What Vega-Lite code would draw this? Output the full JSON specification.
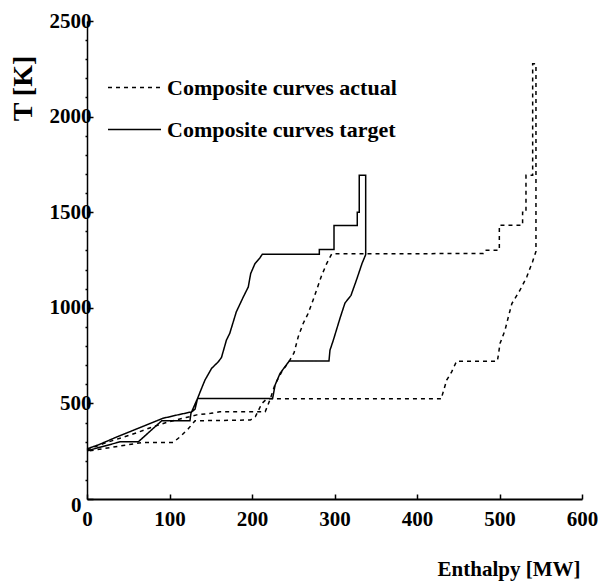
{
  "$schema": "https://vega.github.io/schema/vega-lite/v6.json",
  "width": 495,
  "height": 478,
  "autosize": "none",
  "padding": {"left": 87, "top": 21, "right": 16, "bottom": 83},
  "background": "white",
  "config": {"view": {"stroke": null}, "font": "Liberation Serif"},
  "data": {"values": [
    {"curve": "Composite curves target", "i": 1, "H": 0, "T": 262},
    {"curve": "Composite curves target", "i": 2, "H": 15, "T": 285},
    {"curve": "Composite curves target", "i": 3, "H": 32, "T": 317},
    {"curve": "Composite curves target", "i": 4, "H": 52, "T": 352},
    {"curve": "Composite curves target", "i": 5, "H": 72, "T": 387},
    {"curve": "Composite curves target", "i": 6, "H": 92, "T": 422},
    {"curve": "Composite curves target", "i": 7, "H": 110, "T": 440},
    {"curve": "Composite curves target", "i": 8, "H": 127, "T": 456},
    {"curve": "Composite curves target", "i": 9, "H": 131, "T": 470},
    {"curve": "Composite curves target", "i": 10, "H": 134, "T": 526},
    {"curve": "Composite curves target", "i": 11, "H": 139, "T": 580},
    {"curve": "Composite curves target", "i": 12, "H": 143, "T": 622},
    {"curve": "Composite curves target", "i": 13, "H": 146, "T": 645},
    {"curve": "Composite curves target", "i": 14, "H": 151, "T": 683},
    {"curve": "Composite curves target", "i": 15, "H": 159, "T": 717},
    {"curve": "Composite curves target", "i": 16, "H": 163, "T": 740},
    {"curve": "Composite curves target", "i": 17, "H": 169, "T": 831},
    {"curve": "Composite curves target", "i": 18, "H": 173, "T": 866},
    {"curve": "Composite curves target", "i": 19, "H": 181, "T": 979},
    {"curve": "Composite curves target", "i": 20, "H": 189.5, "T": 1057},
    {"curve": "Composite curves target", "i": 21, "H": 195.5, "T": 1109},
    {"curve": "Composite curves target", "i": 22, "H": 198.4, "T": 1179},
    {"curve": "Composite curves target", "i": 23, "H": 203.6, "T": 1231},
    {"curve": "Composite curves target", "i": 24, "H": 209.7, "T": 1262},
    {"curve": "Composite curves target", "i": 25, "H": 212.5, "T": 1280},
    {"curve": "Composite curves target", "i": 26, "H": 281.6, "T": 1280},
    {"curve": "Composite curves target", "i": 27, "H": 281.6, "T": 1305},
    {"curve": "Composite curves target", "i": 28, "H": 299.4, "T": 1305},
    {"curve": "Composite curves target", "i": 29, "H": 299.4, "T": 1430},
    {"curve": "Composite curves target", "i": 30, "H": 327.6, "T": 1430},
    {"curve": "Composite curves target", "i": 31, "H": 327.6, "T": 1500},
    {"curve": "Composite curves target", "i": 32, "H": 330, "T": 1500},
    {"curve": "Composite curves target", "i": 33, "H": 330, "T": 1693},
    {"curve": "Composite curves target", "i": 34, "H": 337.8, "T": 1693},
    {"curve": "Composite curves target", "i": 35, "H": 337.8, "T": 1278},
    {"curve": "Composite curves target", "i": 36, "H": 333.3, "T": 1231},
    {"curve": "Composite curves target", "i": 37, "H": 327, "T": 1150},
    {"curve": "Composite curves target", "i": 38, "H": 320, "T": 1065},
    {"curve": "Composite curves target", "i": 39, "H": 312.7, "T": 1025},
    {"curve": "Composite curves target", "i": 40, "H": 307, "T": 950},
    {"curve": "Composite curves target", "i": 41, "H": 298.6, "T": 831},
    {"curve": "Composite curves target", "i": 42, "H": 294.5, "T": 778},
    {"curve": "Composite curves target", "i": 43, "H": 293.3, "T": 722},
    {"curve": "Composite curves target", "i": 44, "H": 245.2, "T": 722},
    {"curve": "Composite curves target", "i": 45, "H": 234, "T": 657},
    {"curve": "Composite curves target", "i": 46, "H": 228, "T": 596},
    {"curve": "Composite curves target", "i": 47, "H": 225, "T": 526},
    {"curve": "Composite curves target", "i": 48, "H": 134, "T": 526},
    {"curve": "Composite curves target", "i": 49, "H": 126, "T": 448},
    {"curve": "Composite curves target", "i": 50, "H": 124.8, "T": 409},
    {"curve": "Composite curves target", "i": 51, "H": 90.5, "T": 409},
    {"curve": "Composite curves target", "i": 52, "H": 62.2, "T": 299},
    {"curve": "Composite curves target", "i": 53, "H": 40, "T": 299},
    {"curve": "Composite curves target", "i": 54, "H": 0, "T": 252},
    {"curve": "Composite curves actual", "i": 1, "H": 0, "T": 256},
    {"curve": "Composite curves actual", "i": 2, "H": 20, "T": 290},
    {"curve": "Composite curves actual", "i": 3, "H": 40, "T": 318},
    {"curve": "Composite curves actual", "i": 4, "H": 60, "T": 346},
    {"curve": "Composite curves actual", "i": 5, "H": 80, "T": 378},
    {"curve": "Composite curves actual", "i": 6, "H": 100, "T": 405},
    {"curve": "Composite curves actual", "i": 7, "H": 120, "T": 426},
    {"curve": "Composite curves actual", "i": 8, "H": 133, "T": 440},
    {"curve": "Composite curves actual", "i": 9, "H": 150, "T": 448},
    {"curve": "Composite curves actual", "i": 10, "H": 161, "T": 456},
    {"curve": "Composite curves actual", "i": 11, "H": 216, "T": 456},
    {"curve": "Composite curves actual", "i": 12, "H": 222, "T": 522},
    {"curve": "Composite curves actual", "i": 13, "H": 228, "T": 600},
    {"curve": "Composite curves actual", "i": 14, "H": 236, "T": 665},
    {"curve": "Composite curves actual", "i": 15, "H": 245, "T": 720},
    {"curve": "Composite curves actual", "i": 16, "H": 251, "T": 765},
    {"curve": "Composite curves actual", "i": 17, "H": 256, "T": 848},
    {"curve": "Composite curves actual", "i": 18, "H": 262, "T": 918},
    {"curve": "Composite curves actual", "i": 19, "H": 268, "T": 970},
    {"curve": "Composite curves actual", "i": 20, "H": 274, "T": 1040},
    {"curve": "Composite curves actual", "i": 21, "H": 284.5, "T": 1170},
    {"curve": "Composite curves actual", "i": 22, "H": 290.5, "T": 1231},
    {"curve": "Composite curves actual", "i": 23, "H": 296.6, "T": 1282},
    {"curve": "Composite curves actual", "i": 24, "H": 480.4, "T": 1284},
    {"curve": "Composite curves actual", "i": 25, "H": 482.4, "T": 1301},
    {"curve": "Composite curves actual", "i": 26, "H": 499.8, "T": 1301},
    {"curve": "Composite curves actual", "i": 27, "H": 499.8, "T": 1432},
    {"curve": "Composite curves actual", "i": 28, "H": 528, "T": 1432},
    {"curve": "Composite curves actual", "i": 29, "H": 528, "T": 1500},
    {"curve": "Composite curves actual", "i": 30, "H": 532.1, "T": 1500},
    {"curve": "Composite curves actual", "i": 31, "H": 532.1, "T": 1693},
    {"curve": "Composite curves actual", "i": 32, "H": 540.2, "T": 1693},
    {"curve": "Composite curves actual", "i": 33, "H": 540.2, "T": 2276},
    {"curve": "Composite curves actual", "i": 34, "H": 544.2, "T": 2276},
    {"curve": "Composite curves actual", "i": 35, "H": 544.2, "T": 1295},
    {"curve": "Composite curves actual", "i": 36, "H": 540, "T": 1240},
    {"curve": "Composite curves actual", "i": 37, "H": 533, "T": 1161},
    {"curve": "Composite curves actual", "i": 38, "H": 524.8, "T": 1092},
    {"curve": "Composite curves actual", "i": 39, "H": 515, "T": 1022},
    {"curve": "Composite curves actual", "i": 40, "H": 510.7, "T": 952},
    {"curve": "Composite curves actual", "i": 41, "H": 506.7, "T": 883},
    {"curve": "Composite curves actual", "i": 42, "H": 500.6, "T": 813},
    {"curve": "Composite curves actual", "i": 43, "H": 498.6, "T": 752},
    {"curve": "Composite curves actual", "i": 44, "H": 497.4, "T": 721},
    {"curve": "Composite curves actual", "i": 45, "H": 448, "T": 721},
    {"curve": "Composite curves actual", "i": 46, "H": 442, "T": 665},
    {"curve": "Composite curves actual", "i": 47, "H": 436, "T": 622},
    {"curve": "Composite curves actual", "i": 48, "H": 430, "T": 534},
    {"curve": "Composite curves actual", "i": 49, "H": 429.9, "T": 524},
    {"curve": "Composite curves actual", "i": 50, "H": 218, "T": 524},
    {"curve": "Composite curves actual", "i": 51, "H": 212, "T": 500},
    {"curve": "Composite curves actual", "i": 52, "H": 204, "T": 430},
    {"curve": "Composite curves actual", "i": 53, "H": 198, "T": 413},
    {"curve": "Composite curves actual", "i": 54, "H": 131, "T": 409},
    {"curve": "Composite curves actual", "i": 55, "H": 123, "T": 369},
    {"curve": "Composite curves actual", "i": 56, "H": 113, "T": 326},
    {"curve": "Composite curves actual", "i": 57, "H": 104.6, "T": 296},
    {"curve": "Composite curves actual", "i": 58, "H": 68, "T": 296},
    {"curve": "Composite curves actual", "i": 59, "H": 0, "T": 250}
  ]},
  "mark": {"type": "line", "color": "black", "strokeWidth": 1.5, "interpolate": "linear"},
  "encoding": {
    "x": {
      "field": "H", "type": "quantitative",
      "scale": {"domain": [0, 600], "nice": false},
      "axis": {
        "title": "Enthalpy [MW]",
        "values": [0, 100, 200, 300, 400, 500, 600],
        "grid": false,
        "domainColor": "black", "domainWidth": 2,
        "tickColor": "black", "tickWidth": 1.5, "tickSize": -5,
        "labelPadding": 14,
        "labelFont": "Liberation Serif", "labelFontWeight": "bold", "labelFontSize": 21, "labelColor": "black",
        "labelFlush": false, "labelOverlap": false,
        "titleFont": "Liberation Serif", "titleFontWeight": "bold", "titleFontSize": 21, "titleColor": "black",
        "titleX": 493, "titleY": 70, "titleAlign": "right", "titleBaseline": "middle"
      }
    },
    "y": {
      "field": "T", "type": "quantitative",
      "scale": {"domain": [0, 2500], "nice": false},
      "axis": {
        "title": "T [K]",
        "values": [0, 100, 200, 300, 400, 500, 600, 700, 800, 900, 1000, 1100, 1200, 1300, 1400, 1500, 1600, 1700, 1800, 1900, 2000, 2100, 2200, 2300, 2400, 2500],
        "labelExpr": "datum.value % 500 === 0 ? datum.label : ''",
        "format": "d",
        "grid": false,
        "domainColor": "black", "domainWidth": 1.5,
        "tickColor": "black", "tickWidth": 1.5,
        "tickSize": {"condition": {"test": "datum.value % 500 === 0", "value": -6}, "value": 2},
        "labelPadding": {"condition": {"test": "datum.value === 0", "value": 12}, "value": 2},
        "labelOffset": {"condition": {"test": "datum.value === 0", "value": 6}, "value": 0},
        "labelFont": "Liberation Serif", "labelFontWeight": "bold", "labelFontSize": 21, "labelColor": "black",
        "labelFlush": false, "labelOverlap": false,
        "titleFont": "Liberation Serif", "titleFontWeight": "bold", "titleFontSize": 28, "titleColor": "black",
        "titleX": -64, "titleY": 67, "titleAngle": 270, "titleAlign": "center", "titleBaseline": "middle"
      }
    },
    "order": {"field": "i", "type": "quantitative"},
    "strokeDash": {
      "field": "curve", "type": "nominal",
      "scale": {"domain": ["Composite curves actual", "Composite curves target"], "range": [[4, 4], [1, 0]]},
      "legend": {
        "orient": "none", "legendX": 20, "legendY": 39,
        "title": null,
        "symbolType": "stroke", "symbolSize": 2809, "symbolStrokeWidth": 1.5, "symbolStrokeColor": "black",
        "labelFont": "Liberation Serif", "labelFontSize": 22, "labelFontWeight": "bold", "labelColor": "black",
        "labelOffset": 5, "rowPadding": 3, "labelLimit": 400
      }
    }
  }
}
